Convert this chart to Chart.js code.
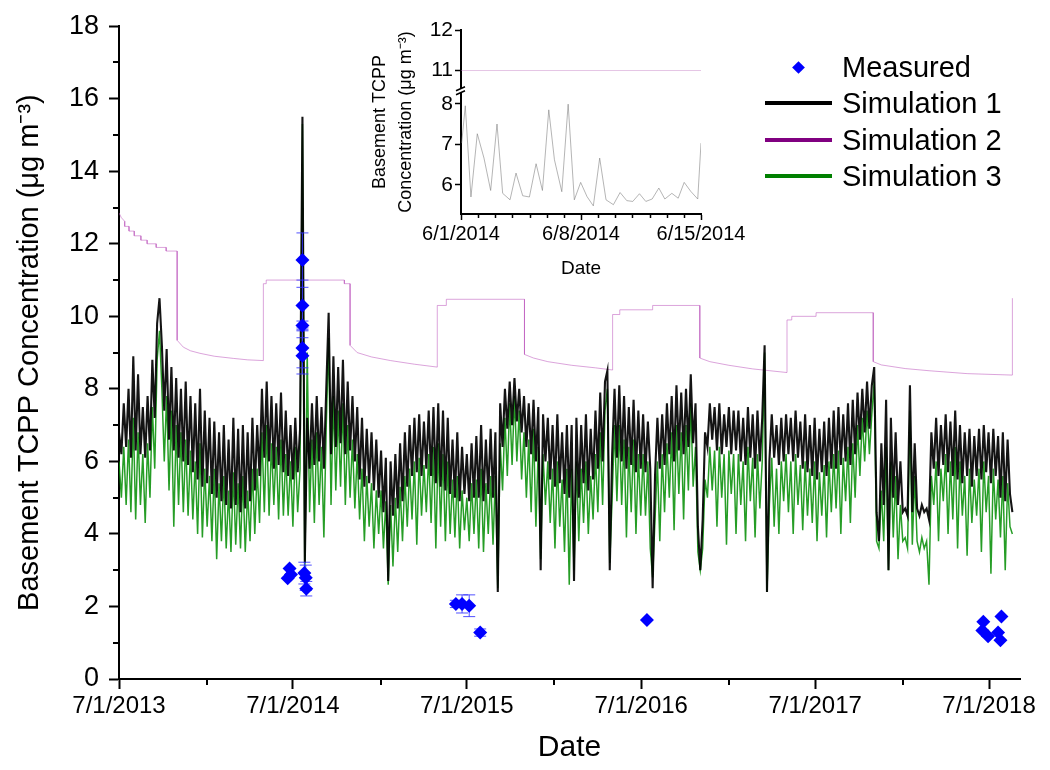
<!DOCTYPE html>
<html><head><meta charset="utf-8">
<script src="https://cdn.jsdelivr.net/npm/chart.js@4.4.1/dist/chart.umd.min.js"></script>
<style>
html,body{margin:0;padding:0;background:#fff;}
#wrap{position:relative;width:1050px;height:770px;overflow:hidden;font-family:'Liberation Sans',Arial,sans-serif;}
#main{position:absolute;left:0;top:0;}
#inset{position:absolute;left:340px;top:10px;}
.lg-line{position:absolute;left:765px;width:67px;height:4px;}
.lg-text{position:absolute;left:842px;height:36px;line-height:36px;font-size:29px;color:#000;white-space:nowrap;}
.lg-diamond{position:absolute;width:9px;height:9px;background:#0000ff;transform:rotate(45deg);}
</style></head><body>
<div id="wrap">
<canvas id="main" width="1050" height="770"></canvas>
<canvas id="inset" width="420" height="280"></canvas>
<div id="legend"></div>
</div>
<script>
// ---------------- DATA ----------------
const startDate = '7/1/2013';
const xTickLabels = ['7/1/2013','7/1/2014','7/1/2015','7/1/2016','7/1/2017','7/1/2018'];
const xMinorDates = ['1/1/2014','1/1/2015','1/1/2016','1/1/2017','1/1/2018'];
const xAxisEnd = '9/4/2018';
const yMajorStep = 2;
const yMinorValues = [1,3,5,7,9,11,13,15,17];

const legendLabels = ['Measured','Simulation 1','Simulation 2','Simulation 3'];
const legendColors = ['#0000ff','#000000','#800080','#008000'];

// Measured samples
const measuredDates = ['6/20/2014','6/24/2014','6/27/2014','7/21/2014','7/21/2014','7/21/2014','7/21/2014','7/21/2014','7/25/2014','7/28/2014','7/29/2014',
  '6/8/2015','6/21/2015','7/6/2015','7/29/2015','7/13/2016',
  '6/17/2018','6/19/2018','6/29/2018','7/20/2018','7/25/2018','7/27/2018'];
const measuredValues = [2.78,3.05,2.88,11.55,10.3,9.75,9.13,8.91,2.92,2.79,2.49,
  2.07,2.07,2.02,1.28,1.63,
  1.34,1.58,1.18,1.28,1.07,1.72];
const measuredErrors = [0,0,0,0.75,0.7,0.12,0.55,0.5,0.3,0.35,0.2,
  0.1,0.25,0.3,0.1,0,
  0,0,0,0,0,0];

// Simulation 1 and 3: one value every 5 days from 7/1/2013
const simStepDays = 5;
const sim1Values = [
6.8,6.2,7.6,6.4,8.0,6.1,8.9,6.3,8.4,6.2,
7.5,6.1,7.8,6.3,8.8,7.2,9.8,10.5,9.2,7.4,
9.1,6.6,8.6,6.3,8.3,6.1,8.0,6.0,8.2,5.9,
7.8,5.7,7.6,5.5,8.0,5.3,7.4,5.4,7.2,5.1,
7.1,5.0,6.8,4.9,7.0,4.8,6.6,4.7,7.2,4.8,
6.9,4.6,7.0,4.7,6.8,4.9,7.2,5.2,7.0,5.6,
8.0,6.1,8.2,6.0,7.8,5.8,7.6,5.9,7.9,5.7,
7.4,5.6,7.0,5.5,7.2,5.7,6.9,15.5,3.2,7.2,
5.8,7.6,5.9,7.8,6.0,7.5,5.8,8.0,10.1,6.2,
8.9,6.4,8.6,6.5,8.8,6.2,8.2,6.3,7.8,6.0,
7.5,5.5,7.2,5.3,6.9,5.4,6.8,5.2,6.6,5.0,
6.3,4.6,6.1,2.7,6.0,4.5,6.2,4.7,6.5,4.9,
6.8,5.3,7.0,5.6,7.2,5.7,7.3,5.6,7.1,5.8,
7.4,5.6,7.5,5.4,7.6,5.3,7.4,5.2,7.2,5.1,
6.6,5.0,6.8,4.9,6.4,5.1,6.2,4.9,6.5,5.0,
6.7,5.0,7.0,4.9,6.6,5.1,6.9,5.0,6.8,2.4,
7.6,6.4,8.0,6.9,8.2,7.0,8.3,7.1,8.0,6.8,
7.8,6.4,7.6,6.2,7.7,6.0,7.5,3.0,7.3,6.0,
7.2,5.5,7.0,5.3,7.3,5.4,6.8,5.1,7.0,5.0,
7.0,2.7,7.2,5.0,7.0,5.4,7.3,5.2,6.9,5.5,
7.4,5.8,7.9,6.0,8.2,8.5,3.0,6.2,8.0,6.1,
8.1,6.0,7.8,5.8,7.5,5.9,7.7,5.7,7.4,5.8,
7.3,5.7,7.1,5.8,2.5,5.6,7.2,5.8,7.3,5.9,
7.6,6.2,7.8,6.0,8.1,6.3,7.9,6.2,8.0,6.4,
8.4,6.5,7.6,4.2,3.0,4.4,6.8,6.4,7.6,6.6,
7.5,6.3,7.6,6.2,7.3,6.4,7.5,6.2,7.4,6.3,
7.4,6.0,7.2,5.9,7.5,6.1,7.3,5.8,7.4,6.0,
7.2,9.2,2.4,6.0,7.3,6.1,7.0,5.9,7.2,6.0,
7.3,6.2,7.2,6.0,7.4,6.1,7.1,5.8,7.3,5.7,
7.0,5.6,7.2,5.5,6.9,5.7,7.1,5.6,7.2,5.8,
7.4,5.8,7.5,5.9,7.3,6.0,7.6,5.9,7.7,6.2,
7.9,6.6,8.0,6.8,8.2,6.9,8.1,8.6,4.6,3.8,
6.5,4.8,7.7,3.0,7.2,5.0,6.8,4.8,6.0,4.6,
4.7,4.5,8.1,4.6,6.5,4.7,4.5,4.8,4.6,4.7,
4.4,6.8,5.8,7.2,5.6,7.0,5.9,7.3,5.7,7.1,
5.6,7.4,5.5,7.0,5.4,6.8,5.6,6.9,5.3,6.7,
5.6,6.9,5.5,7.0,5.7,6.8,5.4,6.9,5.6,6.7,
5.0,6.8,4.9,6.6,5.1,4.6];
const sim3Values = [
6.0,5.0,6.4,4.8,6.6,4.6,7.2,4.4,6.8,4.8,
6.2,4.3,6.5,5.0,7.5,5.8,8.8,9.6,8.0,6.0,
7.8,5.2,7.4,4.2,7.0,4.8,6.8,4.6,6.6,4.5,
6.3,4.4,6.0,4.0,6.5,3.9,5.8,4.2,5.6,3.8,
5.8,3.3,5.4,3.8,5.6,3.6,5.2,3.5,5.7,3.7,
5.4,3.6,5.6,3.5,5.2,3.8,5.8,4.0,5.8,4.3,
6.8,4.6,7.0,4.5,6.5,4.8,6.4,4.4,6.6,4.5,
6.2,4.5,6.0,4.2,6.4,4.6,5.8,15.3,2.8,9.0,
4.6,6.6,4.3,6.8,4.8,6.4,3.9,7.0,9.4,4.8,
7.8,5.2,7.4,5.3,7.6,4.8,7.0,5.0,6.6,4.7,
6.2,4.4,5.8,3.8,5.6,4.2,5.4,3.6,5.2,4.0,
5.2,3.6,4.9,2.6,4.8,3.1,5.0,3.5,5.3,3.8,
5.6,4.2,5.8,4.4,6.0,3.7,6.1,4.5,5.9,4.6,
6.2,4.3,6.4,3.6,6.5,4.2,6.2,3.8,6.0,4.0,
5.5,3.9,5.6,3.6,5.2,4.1,5.0,3.8,5.4,4.0,
5.5,3.6,5.8,3.5,5.4,4.0,5.6,3.7,5.6,2.5,
6.5,5.2,7.2,5.6,7.6,5.9,7.8,6.0,7.4,5.5,
6.8,5.0,6.6,4.6,6.9,4.2,6.4,3.3,6.2,4.8,
6.0,4.3,5.8,3.6,6.0,4.2,5.5,3.5,5.8,2.6,
5.8,3.0,6.0,3.8,5.8,4.3,6.0,4.0,5.6,4.4,
6.2,4.6,6.8,4.8,7.4,8.0,3.2,5.0,7.0,4.9,
7.0,4.8,6.6,3.9,6.4,4.6,6.6,4.0,6.2,4.5,
6.2,4.5,6.0,3.6,2.8,4.4,6.0,3.8,6.2,4.6,
6.5,5.0,6.8,4.1,7.0,5.1,6.8,4.4,7.0,5.2,
7.6,5.3,6.4,3.5,3.0,3.6,5.5,5.0,6.4,5.2,
6.3,4.2,6.4,5.0,6.2,3.7,6.3,5.1,6.2,4.0,
6.2,4.8,6.0,3.8,6.4,4.9,6.1,3.9,6.2,4.7,
6.0,9.0,2.4,4.8,6.1,4.2,5.8,4.0,6.0,4.9,
6.2,4.6,6.0,4.0,6.2,4.8,5.9,4.1,6.0,4.5,
5.8,4.3,6.0,3.8,5.7,4.5,5.9,3.9,6.0,4.6,
6.2,4.7,6.3,4.0,6.1,4.9,6.4,4.3,6.5,5.0,
7.0,5.6,7.2,6.0,7.4,6.2,7.3,8.2,3.8,3.6,
5.2,3.8,6.4,3.0,6.0,3.9,5.6,3.3,4.8,3.8,
3.9,3.6,7.4,3.7,5.6,3.8,3.5,3.9,3.6,3.8,
2.6,5.6,4.8,6.0,3.8,5.8,4.9,6.2,4.0,6.0,
4.4,6.4,3.6,6.0,4.5,5.6,3.4,5.8,4.3,5.5,
4.5,5.8,3.5,6.0,4.6,5.6,2.9,5.8,4.4,5.5,
3.9,5.6,3.0,5.4,4.2,4.0];

// Simulation 2 (step function): days since 7/1/2013 and values
const sim2Days = [0,5,12,12,21,21,32,32,46,46,59,59,78,78,99,99,122,122,135,150,170,200,240,270,303,303,309,309,473,473,485,485,500,530,570,620,668,668,687,687,851,851,870,900,950,1000,1036,1036,1051,1051,1120,1120,1219,1219,1240,1280,1330,1402,1402,1412,1412,1463,1463,1583,1583,1600,1650,1700,1780,1875,1875];
const sim2Values = [12.85,12.72,12.62,12.48,12.48,12.35,12.35,12.22,12.22,12.1,12.1,12.0,12.0,11.9,11.9,11.8,11.8,9.34,9.15,9.05,8.98,8.9,8.84,8.8,8.78,10.9,10.9,11.0,11.0,10.9,10.9,9.2,9.0,8.88,8.78,8.68,8.6,10.3,10.3,10.47,10.47,8.95,8.85,8.75,8.65,8.58,8.52,10.05,10.05,10.18,10.18,10.3,10.3,8.85,8.75,8.65,8.55,8.45,9.9,9.9,10.0,10.0,10.1,10.1,8.75,8.66,8.56,8.5,8.42,8.38,10.5];

// Inset: 6/1/2014 - 6/15/2014
const insetTickLabels = ['6/1/2014','6/8/2014','6/15/2014'];
const insetTickDays = [0,7,14];
const insetDays = [0.04,0.25,0.58,0.95,1.34,1.73,2.10,2.43,2.86,3.21,3.60,3.99,4.38,4.75,5.12,5.45,5.88,6.25,6.61,6.98,7.35,7.72,8.09,8.46,8.89,9.28,9.67,10.02,10.41,10.78,11.15,11.54,11.89,12.30,12.67,13.02,13.40,13.81,14.0];
const insetSim1 = [7.03,7.95,5.70,7.26,6.66,5.86,7.50,5.79,5.63,6.29,5.73,5.70,6.52,5.86,7.85,6.62,5.83,7.99,5.63,6.06,5.71,5.48,6.66,5.63,5.51,5.81,5.61,5.59,5.78,5.59,5.65,5.92,5.65,5.79,5.67,6.06,5.84,5.65,7.03];
const insetSim2Days = [0,14];
const insetSim2 = [11,11];
const insetYTicks = [6,7,8,11,12];
const insetYLow = 5.28, insetBreakLow = 8.32, insetBreakHigh = 10.5, insetYHigh = 12;

// ---------------- HELPERS ----------------
function dayOf(s){const [m,d,y]=s.split('/').map(Number);const [m0,d0,y0]=startDate.split('/').map(Number);
  return Math.round((Date.UTC(y,m-1,d)-Date.UTC(y0,m0-1,d0))/86400000);}
const xTickDays = xTickLabels.map(dayOf);
const xMinorDays = xMinorDates.map(dayOf);
const xMax = dayOf(xAxisEnd);

const measuredPts = measuredDates.map((d,i)=>({x:dayOf(d), y:measuredValues[i], e:measuredErrors[i]}));
const sim1Pts = sim1Values.map((v,i)=>({x:i*simStepDays, y:v}));
const sim3Pts = sim3Values.map((v,i)=>({x:i*simStepDays, y:v}));
const sim2Pts = sim2Days.map((d,i)=>({x:d, y:sim2Values[i]}));

Chart.defaults.font.family = "'Liberation Sans', Arial, sans-serif";
Chart.defaults.color = '#000';

const mainPlugin = {
  id:'mainExtras',
  afterDatasetDraw(chart, args){
    if (args.index !== 1) return;
    const {ctx, scales:{x,y}} = chart;
    ctx.save();
    ctx.strokeStyle = 'rgba(50,50,255,0.85)'; ctx.lineWidth = 1;
    measuredPts.forEach(p=>{
      if (!p.e) return;
      const px = x.getPixelForValue(p.x), top = y.getPixelForValue(p.y+p.e), bot = y.getPixelForValue(p.y-p.e);
      ctx.beginPath();
      ctx.moveTo(px, top); ctx.lineTo(px, bot);
      ctx.moveTo(px-6, top); ctx.lineTo(px+6, top);
      ctx.moveTo(px-6, bot); ctx.lineTo(px+6, bot);
      ctx.stroke();
    });
    ctx.restore();
  },
  afterDraw(chart){
    const {ctx, scales:{x,y}} = chart;
    ctx.save(); ctx.strokeStyle='#000'; ctx.lineWidth=2;
    yMinorValues.forEach(v=>{const py=Math.round(y.getPixelForValue(v)); ctx.beginPath(); ctx.moveTo(x.left, py); ctx.lineTo(x.left-6, py); ctx.stroke();});
    xMinorDays.forEach(d=>{const px=Math.round(x.getPixelForValue(d)); ctx.beginPath(); ctx.moveTo(px, y.bottom); ctx.lineTo(px, y.bottom+6); ctx.stroke();});
    ctx.restore();
  }
};

new Chart(document.getElementById('main'), {
  type:'line',
  data:{datasets:[
    {label:legendLabels[0], data:measuredPts, showLine:false, pointStyle:'rectRot', pointRadius:7, pointBackgroundColor:'#0000ff', pointBorderColor:'#0000ff', pointBorderWidth:0, borderColor:'#0000ff', backgroundColor:'#0000ff'},
    {label:legendLabels[1], data:sim1Pts, borderColor:'rgba(0,0,0,0.92)', borderWidth:2.1, pointRadius:0, tension:0, fill:false},
    {label:legendLabels[2], data:sim2Pts, borderColor:'rgba(190,90,190,0.55)', borderWidth:1, pointRadius:0, tension:0, fill:false},
    {label:legendLabels[3], data:sim3Pts, borderColor:'rgba(0,140,0,0.85)', borderWidth:1.5, pointRadius:0, tension:0, fill:false}
  ]},
  options:{
    responsive:false, animation:false, events:[],
    layout:{padding:{left:0, top:20, right:30, bottom:0}},
    plugins:{legend:{display:false}, tooltip:{enabled:false}},
    scales:{
      x:{type:'linear', min:0, max:xMax,
        afterBuildTicks(s){ s.ticks = xTickDays.map(v=>({value:v})); },
        ticks:{font:{size:24}, color:'#000', padding:3, maxRotation:0, minRotation:0, autoSkip:false,
          callback:(v)=>{const i=xTickDays.indexOf(v); return i>=0?xTickLabels[i]:'';}},
        grid:{drawOnChartArea:false, drawTicks:true, tickLength:10, color:'#000', tickColor:'#000', tickWidth:2},
        border:{display:true, color:'#000', width:2},
        title:{display:true, text:'Date', font:{size:30}, color:'#000', padding:{top:0, bottom:4}},
        afterFit(s){ s.height = 91; }
      },
      y:{type:'linear', min:0, max:18,
        ticks:{stepSize:yMajorStep, font:{size:27}, color:'#000', padding:10},
        grid:{drawOnChartArea:false, drawTicks:true, tickLength:10, color:'#000', tickColor:'#000', tickWidth:2},
        border:{display:true, color:'#000', width:2},
        title:{display:true, text:'Basement TCPP Concentration (μg m⁻³)', font:{size:29}, color:'#000', padding:{top:13, bottom:0}},
        afterFit(s){ s.width = 119; }
      }
    }
  },
  plugins:[mainPlugin]
});

// ---------------- INSET ----------------
function brk(v){ return v > insetBreakLow ? v - insetBreakHigh + insetBreakLow : v; }
const insetPts = insetDays.map((d,i)=>({x:d, y:brk(insetSim1[i])}));
const insetPts2 = insetSim2Days.map((d,i)=>({x:d, y:brk(insetSim2[i])}));

const insetPlugin = {
  id:'insetExtras',
  afterDraw(chart){
    const {ctx, scales:{x,y}} = chart;
    ctx.save(); ctx.strokeStyle='#000'; ctx.lineWidth=1.5;
    for (let d=insetTickDays[0]; d<=insetTickDays[insetTickDays.length-1]; d++){
      if (insetTickDays.includes(d)) continue;
      const px=Math.round(x.getPixelForValue(d))+0.5;
      ctx.beginPath(); ctx.moveTo(px, y.bottom); ctx.lineTo(px, y.bottom+4); ctx.stroke();
    }
    const py = y.getPixelForValue(insetBreakLow);
    ctx.fillStyle='#fff'; ctx.fillRect(x.left-3, py-2, 6, 4);
    ctx.lineWidth=1.5;
    ctx.beginPath();
    ctx.moveTo(x.left-5, py); ctx.lineTo(x.left+4, py-4);
    ctx.moveTo(x.left-5, py+4); ctx.lineTo(x.left+4, py);
    ctx.stroke();
    ctx.restore();
  }
};

new Chart(document.getElementById('inset'), {
  type:'line',
  data:{datasets:[
    {label:'Simulation 1', data:insetPts, borderColor:'rgba(120,120,120,0.55)', borderWidth:1, pointRadius:0, tension:0, fill:false},
    {label:'Simulation 2', data:insetPts2, borderColor:'rgba(190,110,190,0.4)', borderWidth:1, pointRadius:0, tension:0, fill:false}
  ]},
  options:{
    responsive:false, animation:false, events:[],
    layout:{padding:{left:0, top:20, right:59, bottom:0}},
    plugins:{legend:{display:false}, tooltip:{enabled:false}},
    scales:{
      x:{type:'linear', min:insetTickDays[0], max:insetTickDays[insetTickDays.length-1],
        afterBuildTicks(s){ s.ticks = insetTickDays.map(v=>({value:v})); },
        ticks:{font:{size:20}, color:'#000', padding:2, maxRotation:0, minRotation:0, autoSkip:false,
          callback:(v)=>{const i=insetTickDays.indexOf(v); return i>=0?insetTickLabels[i]:'';}},
        grid:{drawOnChartArea:false, drawTicks:true, tickLength:6, color:'#000', tickColor:'#000', tickWidth:1.5},
        border:{display:true, color:'#000', width:2},
        title:{display:true, text:'Date', font:{size:19}, color:'#000', padding:{top:0, bottom:10}},
        afterFit(s){ s.height = 76; }
      },
      y:{type:'linear', min:insetYLow, max:brk(insetYHigh),
        afterBuildTicks(s){ s.ticks = insetYTicks.map(v=>({value:brk(v)})); },
        ticks:{font:{size:21}, color:'#000', padding:2, autoSkip:false,
          callback:(v,i)=>String(insetYTicks[i])},
        grid:{drawOnChartArea:false, drawTicks:true, tickLength:6, color:'#000', tickColor:'#000', tickWidth:1.5},
        border:{display:true, color:'#000', width:2},
        title:{display:true, text:['Basement TCPP','Concentration (μg m⁻³)'], font:{size:18, lineHeight:1.45}, color:'#000', padding:{top:27, bottom:0}},
        afterFit(s){ s.width = 121; }
      }
    }
  },
  plugins:[insetPlugin]
});

// ---------------- LEGEND (HTML) ----------------
const legend = document.getElementById('legend');
const rowY = [67,103,140,176];
legendLabels.forEach((lab,i)=>{
  if (i===0){
    const dmd=document.createElement('div'); dmd.className='lg-diamond';
    dmd.style.left=(798-4.5)+'px'; dmd.style.top=(rowY[i]-4.5)+'px'; dmd.style.background=legendColors[i];
    legend.appendChild(dmd);
  } else {
    const ln=document.createElement('div'); ln.className='lg-line';
    ln.style.top=(rowY[i]-2)+'px'; ln.style.background=legendColors[i];
    legend.appendChild(ln);
  }
  const t=document.createElement('div'); t.className='lg-text';
  t.style.top=(rowY[i]-18)+'px'; t.textContent=lab;
  legend.appendChild(t);
});
</script>
</body></html>
